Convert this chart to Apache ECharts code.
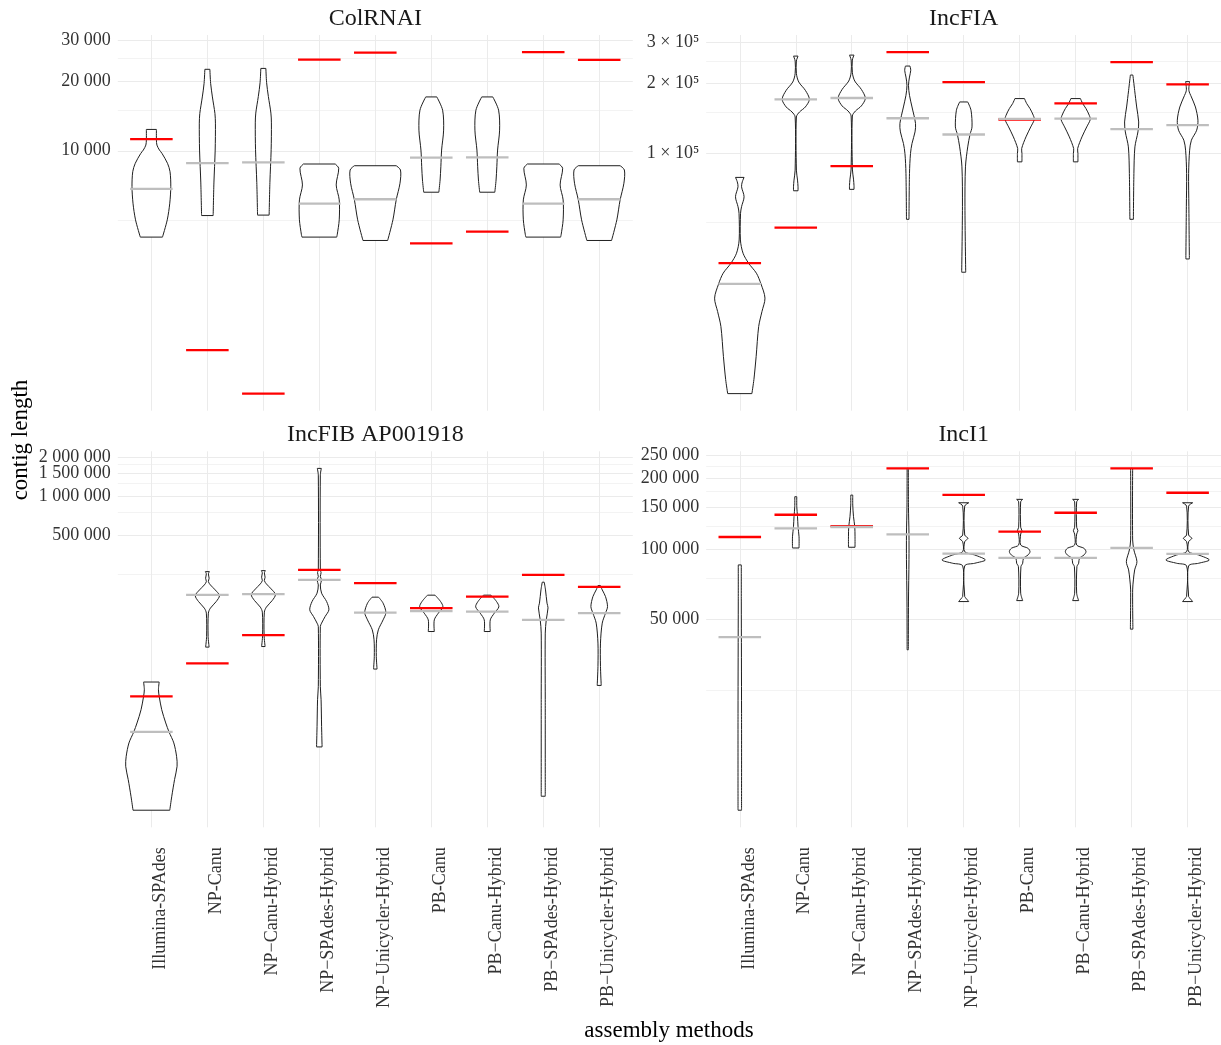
<!DOCTYPE html>
<html><head><meta charset="utf-8">
<script src="https://cdn.jsdelivr.net/npm/echarts@6/dist/echarts.min.js"></script>
<style>html,body{margin:0;padding:0;background:#fff}#c{width:1221px;height:1045px}</style>
</head><body><div id="c"></div><script>
// ---------- data ----------
const methods = ['Illumina-SPAdes','NP-Canu','NP\u2212Canu-Hybrid','NP\u2212SPAdes-Hybrid','NP\u2212Unicycler-Hybrid','PB-Canu','PB\u2212Canu-Hybrid','PB\u2212SPAdes-Hybrid','PB\u2212Unicycler-Hybrid'];
const panelTitles = ['ColRNAI','IncFIA','IncFIB AP001918','IncI1'];

// ColRNAI
const colrnaiRef = [11230, 1374, 891, 24780, 26550, 3974, 4468, 26710, 24700];
const colrnaiMedian = [6838, 8850, 8915, 5908, 6172, 9330, 9370, 5908, 6172];
const colrnaiTicks = [10000, 20000, 30000];
const colrnaiTickLabels = ['10 000', '20 000', '30 000'];
const colrnaiMinor = [5000, 15000, 25000];
// violin profiles: [contig length, relative half width]
const colrnaiViolins = [
  [[12365,0.2],[11120,0.2],[10580,0.22],[10070,0.32],[9745,0.42],[8824,0.64],[8120,0.74],[6995,0.77],[5934,0.73],[5027,0.63],[4233,0.44]],
  [[22500,0.10],[19570,0.13],[17090,0.20],[14500,0.30],[13160,0.32],[10070,0.31],[7258,0.26],[5246,0.23]],
  [[22700,0.10],[19700,0.13],[17150,0.20],[14550,0.30],[13200,0.32],[10100,0.31],[7280,0.26],[5270,0.23]],
  [[8764,0.63],[8398,0.77],[7116,0.67],[6131,0.79],[5027,0.79],[4331,0.71],[4233,0.69]],
  [[8615,0.83],[8256,1.0],[7236,0.98],[6131,0.83],[5027,0.70],[4093,0.49]],
  [[17090,0.22],[14980,0.45],[12280,0.49],[10070,0.41],[8531,0.38],[7475,0.35],[6618,0.30]],
  [[17090,0.22],[14980,0.45],[12280,0.49],[10070,0.41],[8531,0.38],[7475,0.35],[6618,0.30]],
  [[8764,0.63],[8398,0.77],[7116,0.67],[6131,0.79],[5027,0.79],[4331,0.71],[4233,0.69]],
  [[8615,0.83],[8256,1.0],[7236,0.98],[6131,0.83],[5027,0.70],[4093,0.49]]
];

// IncFIA
const incfiaRef = [33400, 47550, 87730, 272800, 202500, 139500, 163900, 247000, 197900];
const incfiaMedian = [27200, 170550, 172800, 141260, 120150, 140300, 140800, 126650, 131800];
const incfiaTicks = [100000, 200000, 300000];
const incfiaTickLabels = ['1 \u00d7 10\u2075', '2 \u00d7 10\u2075', '3 \u00d7 10\u2075'];
const incfiaMinor = [50000, 150000, 250000];
const incfiaViolins = [
  [[78430,0.17],[75070,0.10],[71440,0.07],[64690,0.17],[58590,0.07],[54860,0.03],[42090,0.025],[36880,0.13],[33400,0.35],[30240,0.66],[27200,0.84],[23600,1.0],[20650,0.88],[17800,0.75],[13220,0.65],[10490,0.56],[9128,0.48]],
  [[262100,0.09],[249500,0.02],[220100,0.025],[202500,0.12],[186500,0.38],[170550,0.54],[158000,0.38],[150400,0.15],[143100,0.025],[84320,0.025],[76340,0.07],[71440,0.09],[68660,0.09]],
  [[264700,0.09],[252000,0.02],[222000,0.025],[204500,0.12],[188300,0.38],[172300,0.54],[159600,0.38],[151900,0.15],[144500,0.025],[85200,0.025],[77100,0.07],[72200,0.09],[69630,0.09]],
  [[237400,0.09],[227500,0.12],[212800,0.07],[196000,0.03],[177500,0.07],[158000,0.17],[134100,0.31],[123300,0.29],[109900,0.17],[99500,0.11],[81560,0.07],[51690,0.05]],
  [[166100,0.16],[152950,0.29],[129600,0.33],[120150,0.25],[106250,0.16],[87130,0.07],[58590,0.05],[30540,0.08]],
  [[171750,0.19],[163400,0.28],[155500,0.41],[145500,0.54],[139500,0.58],[129600,0.44],[117350,0.25],[104570,0.08],[99500,0.09],[91540,0.09]],
  [[171750,0.19],[163400,0.28],[155500,0.41],[145500,0.54],[139500,0.58],[129600,0.44],[117350,0.25],[104570,0.08],[99500,0.09],[91540,0.09]],
  [[217100,0.05],[186500,0.12],[158000,0.2],[136150,0.28],[123300,0.25],[106250,0.13],[81560,0.09],[51690,0.07]],
  [[203300,0.08],[186500,0.05],[174500,0.15],[158000,0.31],[138500,0.41],[125400,0.36],[113550,0.15],[102800,0.08],[81560,0.04],[58590,0.05],[34840,0.07]]
];

// IncFIB AP001918
const incfibRef = [29060, 51990, 85780, 271300, 214500, 138100, 169400, 248500, 201000];
const incfibMedian = [15510, 174600, 176700, 227400, 127800, 131000, 130100, 112300, 126400];
const incfibTicks = [500000, 1000000, 1500000, 2000000];
const incfibTickLabels = ['500 000', '1 000 000', '1 500 000', '2 000 000'];
const incfibMinor = [250000, 750000, 1250000, 1750000];
const incfibViolins = [
  [[37460,0.31],[32700,0.28],[29060,0.31],[22980,0.41],[18180,0.57],[15510,0.70],[12780,0.89],[10090,1.0],[8460,1.02],[6690,0.92],[4985,0.81],[3894,0.73]],
  [[263300,0.08],[252700,0.04],[234300,0.07],[220700,0.04],[208200,0.12],[190700,0.31],[172400,0.48],[155100,0.35],[138100,0.12],[126400,0.04],[83700,0.03],[69420,0.07]],
  [[268000,0.08],[257200,0.04],[238500,0.07],[224700,0.04],[212000,0.12],[194100,0.31],[175500,0.48],[157900,0.35],[140600,0.12],[128700,0.04],[85200,0.03],[70100,0.07]],
  [[1630000,0.08],[1448000,0.04],[271300,0.04],[258500,0.07],[241100,0.04],[227400,0.09],[208200,0.04],[179900,0.09],[155100,0.29],[134100,0.38],[119100,0.23],[106000,0.09],[99820,0.04],[34660,0.04],[27420,0.07],[17120,0.09],[11910,0.11]],
  [[167700,0.13],[150800,0.31],[127800,0.42],[112300,0.31],[94170,0.12],[78960,0.05],[58830,0.04],[47100,0.07]],
  [[173700,0.15],[155100,0.37],[141300,0.46],[126400,0.28],[112300,0.12],[91400,0.12]],
  [[173700,0.15],[155100,0.37],[141300,0.46],[126400,0.28],[112300,0.12],[91400,0.12]],
  [[218400,0.04],[190700,0.09],[150800,0.15],[138800,0.19],[112300,0.12],[88850,0.08],[27420,0.08],[4985,0.08]],
  [[205700,0.05],[190700,0.12],[169400,0.25],[142000,0.33],[126400,0.25],[106000,0.12],[74500,0.05],[49320,0.05],[35280,0.08]]
];

// IncI1
const inci1Ref = [112200, 139500, 124900, 219400, 169500, 118200, 142200, 219400, 172900];
const inci1Median = [42170, 122150, 123700, 115200, 95330, 91420, 91420, 100800, 95060];
const inci1Ticks = [50000, 100000, 150000, 200000, 250000];
const inci1TickLabels = ['50 000', '100 000', '150 000', '200 000', '250 000'];
const inci1Minor = [25000, 75000, 125000, 175000, 225000];
const inci1Violins = [
  [[85400,0.06],[60000,0.06],[20000,0.07],[7770,0.07]],
  [[166300,0.04],[150800,0.04],[136800,0.07],[124050,0.09],[112500,0.13],[100800,0.13]],
  [[169000,0.04],[153300,0.04],[136800,0.07],[124050,0.12],[112500,0.13],[101500,0.13]],
  [[219400,0.02],[150000,0.03],[115000,0.05],[90000,0.05],[60000,0.03],[37260,0.02]],
  [[156800,0.2],[151800,0.04],[114400,0.04],[110800,0.17],[107200,0.04],[97210,0.04],[94120,0.44],[89660,0.86],[86820,0.44],[84560,0.04],[62660,0.04],[61700,0.09],[59700,0.2]],
  [[162100,0.12],[158300,0.04],[123400,0.04],[119300,0.09],[115500,0.04],[103800,0.04],[100500,0.33],[97210,0.41],[94120,0.33],[91150,0.15],[86820,0.12],[84000,0.05],[64770,0.04],[60270,0.12]],
  [[162100,0.12],[158300,0.04],[123400,0.04],[119300,0.09],[115500,0.04],[103800,0.04],[100500,0.33],[97210,0.41],[94120,0.33],[91150,0.15],[86820,0.12],[84000,0.05],[64770,0.04],[60270,0.12]],
  [[219400,0.04],[109000,0.04],[98830,0.09],[88190,0.21],[81340,0.12],[73770,0.07],[66890,0.04],[45600,0.05]],
  [[156800,0.2],[151800,0.04],[114400,0.04],[110800,0.17],[107200,0.04],[97210,0.04],[94120,0.44],[89660,0.86],[86820,0.44],[84560,0.04],[62660,0.04],[61700,0.09],[59700,0.2]]
];

// ---------- layout & style ----------
const FONT = 'Liberation Serif';
const grids = [
  {left: 117.8, top: 35, width: 515, height: 375.7},
  {left: 706.2, top: 35, width: 515, height: 375.7},
  {left: 117.8, top: 451.3, width: 515, height: 376},
  {left: 706.2, top: 451.3, width: 515, height: 376}
];
const titleY = [19, 19, 435, 435];
const panels = [
  {ref: colrnaiRef, med: colrnaiMedian, vio: colrnaiViolins, ticks: colrnaiTicks, labels: colrnaiTickLabels, minor: colrnaiMinor},
  {ref: incfiaRef, med: incfiaMedian, vio: incfiaViolins, ticks: incfiaTicks, labels: incfiaTickLabels, minor: incfiaMinor},
  {ref: incfibRef, med: incfibMedian, vio: incfibViolins, ticks: incfibTicks, labels: incfibTickLabels, minor: incfibMinor},
  {ref: inci1Ref, med: inci1Median, vio: inci1Violins, ticks: inci1Ticks, labels: inci1TickLabels, minor: inci1Minor}
];
const catIdx = methods.map((m, i) => i);
const GRID_COLOR = '#EBEBEB';
const TICK_COLOR = '#333333';

function range(p) {
  const all = p.ref.concat(p.med);
  p.vio.forEach(v => v.forEach(pt => all.push(pt[0])));
  const lo = Math.log10(Math.min(...all)), hi = Math.log10(Math.max(...all));
  const pad = (hi - lo) * 0.05;
  return [lo - pad, hi + pad];
}

function violinRender(profiles) {
  return function (params, api) {
    const idx = api.value(0);
    const prof = profiles[params.dataIndex];
    const maxHW = api.size([1, 0])[0] * 0.45;
    const right = [], left = [];
    prof.forEach(([v, d]) => {
      const p = api.coord([idx, Math.log10(v)]);
      const hw = Math.max(d * maxHW, 0.6);
      right.push([p[0] + hw, p[1]]);
      left.push([p[0] - hw, p[1]]);
    });
    const outline = right.concat(left.slice().reverse());
    const st = {stroke: '#1F1F1F', lineWidth: 1, fill: 'none'};
    const n = right.length - 1;
    return {type: 'group', children: [
      {type: 'polygon', shape: {points: outline}, style: {fill: '#ffffff', stroke: 'none'}},
      {type: 'polyline', shape: {points: right, smooth: 0.3}, style: st},
      {type: 'polyline', shape: {points: left, smooth: 0.3}, style: st},
      {type: 'line', shape: {x1: left[0][0], y1: left[0][1], x2: right[0][0], y2: right[0][1]}, style: st},
      {type: 'line', shape: {x1: left[n][0], y1: left[n][1], x2: right[n][0], y2: right[n][1]}, style: st}
    ]};
  };
}
function hlineRender(color) {
  return function (params, api) {
    const p = api.coord([api.value(0), api.value(1)]);
    const w = api.size([1, 0])[0] * 0.76;
    return {type: 'line', shape: {x1: p[0] - w / 2, y1: p[1], x2: p[0] + w / 2, y2: p[1]},
      style: {stroke: color, lineWidth: 2.3}};
  };
}
function yLabelStyle(p, values) {
  const tickLog = p.ticks.map(Math.log10);
  return {
    show: true, customValues: values, margin: 7, hideOverlap: false,
    showMinLabel: true, showMaxLabel: true,
    fontFamily: FONT, fontSize: 18, color: TICK_COLOR,
    formatter: v => {
      let best = 0;
      tickLog.forEach((t, i) => { if (Math.abs(t - v) < Math.abs(tickLog[best] - v)) best = i; });
      return p.labels[best];
    }
  };
}

const xAxes = [], yAxes = [], series = [], graphics = [];
panels.forEach((p, k) => {
  const [lo, hi] = range(p);
  const bottom = k >= 2;
  xAxes.push({
    type: 'value', gridIndex: k, min: -0.6, max: methods.length - 0.4,
    axisLine: {show: false},
    axisTick: {show: false, customValues: catIdx},
    splitLine: {show: true, lineStyle: {color: GRID_COLOR, width: 1}},
    axisLabel: {show: bottom, customValues: catIdx, rotate: 90, margin: 20, verticalAlign: 'top',
      hideOverlap: false, fontFamily: FONT, fontSize: 18, color: TICK_COLOR,
      formatter: v => methods[Math.round(v)]}
  });
  const tickLog = p.ticks.map(Math.log10);
  yAxes.push({
    type: 'value', gridIndex: k, min: lo, max: hi,
    axisLine: {show: false},
    axisTick: {show: false, customValues: tickLog},
    splitLine: {show: true, lineStyle: {color: GRID_COLOR, width: 1}},
    axisLabel: yLabelStyle(p, tickLog.filter((t, i) => i % 2 === 0))
  });
  series.push({
    type: 'custom', xAxisIndex: k, yAxisIndex: k, z: 2,
    renderItem: violinRender(p.vio),
    data: catIdx.map(i => [i, Math.log10(p.med[i])])
  });
  series.push({
    type: 'custom', xAxisIndex: k, yAxisIndex: k, z: 3,
    renderItem: hlineRender('#FF0000'),
    data: catIdx.map(i => [i, Math.log10(p.ref[i])])
  });
  series.push({
    type: 'custom', xAxisIndex: k, yAxisIndex: k, z: 4,
    renderItem: hlineRender('#BEBEBE'),
    data: catIdx.map(i => [i, Math.log10(p.med[i])])
  });
  graphics.push({
    type: 'text', x: grids[k].left + grids[k].width / 2, y: titleY[k],
    style: {text: panelTitles[k], fontFamily: FONT, fontSize: 24, fill: '#1A1A1A', textAlign: 'center', verticalAlign: 'middle'}
  });
});
// secondary y axes: minor grid lines + the remaining (alternate) tick labels
panels.forEach((p, k) => {
  const [lo, hi] = range(p);
  const tickLog = p.ticks.map(Math.log10);
  yAxes.push({
    type: 'value', gridIndex: k, min: lo, max: hi, position: 'left', offset: 0,
    axisLine: {show: false},
    axisLabel: yLabelStyle(p, tickLog.filter((t, i) => i % 2 === 1)),
    axisTick: {show: false, customValues: p.minor.map(Math.log10)},
    splitLine: {show: true, lineStyle: {color: GRID_COLOR, width: 0.6}}
  });
});
graphics.push({
  type: 'text', x: 21, y: 440, rotation: Math.PI / 2,
  style: {text: 'contig length', fontFamily: FONT, fontSize: 23, fill: '#000', textAlign: 'center', verticalAlign: 'middle'}
});
graphics.push({
  type: 'text', x: 669, y: 1031,
  style: {text: 'assembly methods', fontFamily: FONT, fontSize: 23, fill: '#000', textAlign: 'center', verticalAlign: 'middle'}
});

const chart = echarts.init(document.getElementById('c'), null, {renderer: 'canvas'});
chart.setOption({
  animation: false,
  backgroundColor: '#ffffff',
  grid: grids.map(g => Object.assign({containLabel: false, outerBoundsMode: 'none'}, g)),
  xAxis: xAxes,
  yAxis: yAxes,
  series: series,
  graphic: graphics
});
</script></body></html>
